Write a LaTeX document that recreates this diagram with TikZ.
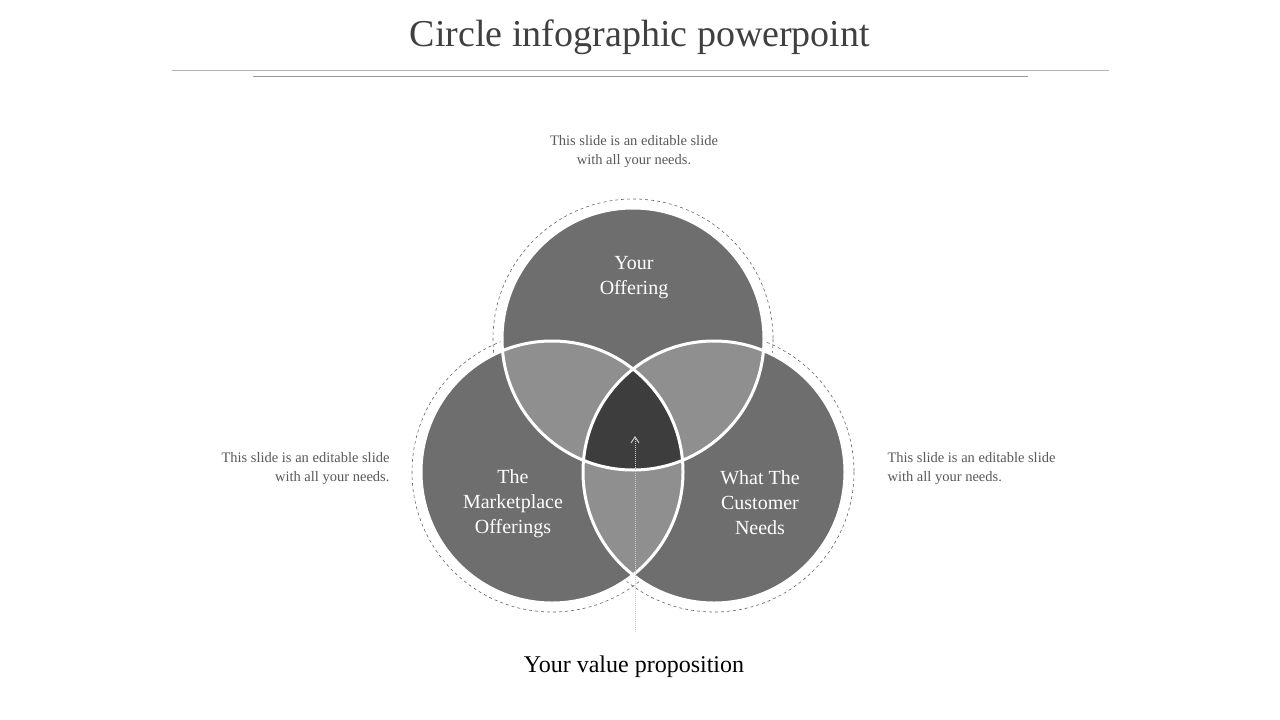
\documentclass[tikz,border=0pt]{standalone}
\usepackage{fontspec}
\usetikzlibrary{arrows.meta}
\setmainfont{Liberation Serif}
\begin{document}
\begin{tikzpicture}[x=1pt,y=-1pt,
  small/.style={text=black!65,font=\fontsize{14.5}{19}\selectfont,align=center},
  lab/.style={text=white,font=\fontsize{20}{25}\selectfont,align=center}]
\useasboundingbox (0,0) rectangle (1280,720);
\fill[white] (0,0) rectangle (1280,720);
\node[text=black!75,font=\fontsize{38}{44}\selectfont] (title) at (640,37) {Circle infographic powerpoint};
\coordinate (l1a) at (172,70); \coordinate (l1b) at (1109,70);
\coordinate (l2a) at (253,76); \coordinate (l2b) at (1028,76);
\draw[black!30,line width=0.8pt] (l1a) -- (l1b);
\draw[black!40,line width=0.8pt] (l2a) -- (l2b);
\def\R{131}
\coordinate (T) at (633,339);
\coordinate (L) at (552,472);
\coordinate (Rc) at (714,472);
\foreach \c in {T,L,Rc}{\draw[black!60,dashed,line width=0.6pt] (\c) circle (140);}
\foreach \c in {T,L,Rc}{\fill[black!57] (\c) circle (\R);}
\begin{scope}\clip (T) circle (\R); \fill[black!44] (L) circle (\R); \fill[black!44] (Rc) circle (\R);\end{scope}
\begin{scope}\clip (L) circle (\R); \fill[black!44] (Rc) circle (\R);\end{scope}
\begin{scope}\clip (T) circle (\R); \clip (L) circle (\R); \fill[black!76] (Rc) circle (\R);\end{scope}
\foreach \c in {T,L,Rc}{\draw[white,line width=3pt] (\c) circle (\R);}
\coordinate (as) at (635,632); \coordinate (ae) at (635,436);
\draw[black!20,densely dotted,line width=1pt,-{Straight Barb[length=6pt,width=8pt]}] (as) -- (ae);
\node[lab] (n1) at (634,278) {Your\\Offering};
\node[lab] (n2) at (513,504) {The\\Marketplace\\Offerings};
\node[lab] (n3) at (760,503) {What The\\Customer\\Needs};
\node[small] (t1) at (634,152) {This slide is an editable slide\\with all your needs.};
\node[small,align=right,anchor=east] (t2) at (393,469) {This slide is an editable slide\\with all your needs.};
\node[small,align=left,anchor=west] (t3) at (884,469) {This slide is an editable slide\\with all your needs.};
\node[font=\fontsize{24}{28}\selectfont] (vp) at (634,667) {Your value proposition};
\end{tikzpicture}
\end{document}
